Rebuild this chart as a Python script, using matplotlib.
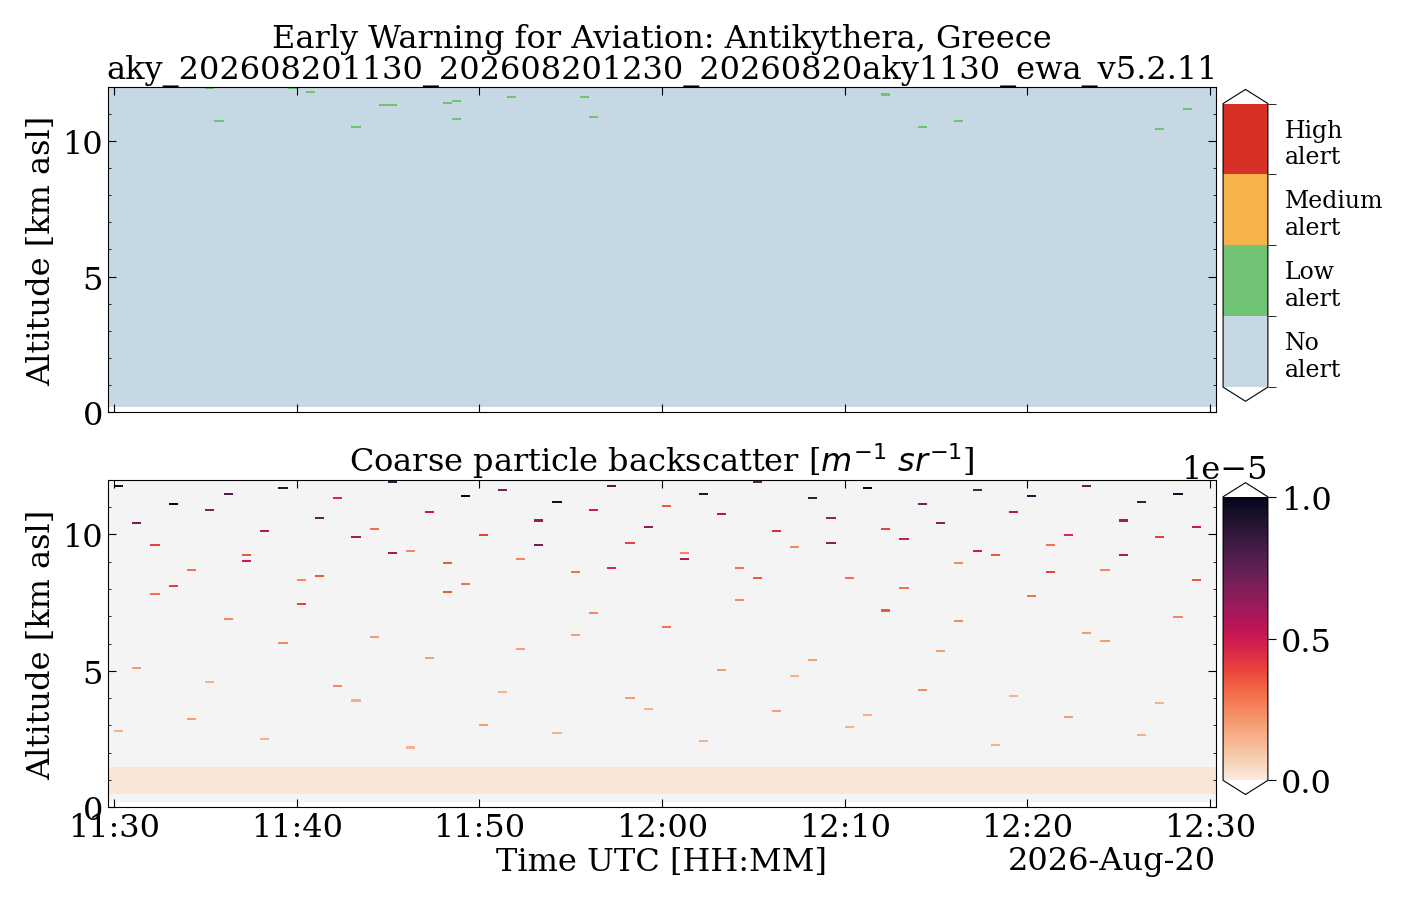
import numpy as np
import matplotlib.pyplot as plt
import matplotlib.dates as mdates
from matplotlib.colors import ListedColormap, BoundaryNorm, Normalize
import seaborn as sns
from datetime import datetime, timedelta

plt.rcParams['font.family'] = ['DejaVu Serif']
plt.rcParams['font.size'] = 23

# ---- data ----
start = datetime(2026, 8, 20, 11, 30)
n_minutes = 60
alt_bottom, alt_top, alt_step = 0.2, 12.0, 0.075

# alert cells: (minute after 11:30, altitude km), level 1 = low alert
alert_minute = [5, 5.5, 9.5, 10.5, 13, 14.5, 15, 18, 18.5, 18.5, 21.5, 25.5, 26, 42, 44, 46, 57, 58.5]
alert_alt_km = [11.9, 10.7, 11.9, 11.8, 10.5, 11.3, 11.3, 11.4, 11.5, 10.8, 11.6, 11.6, 10.9, 11.7, 10.5, 10.7, 10.4, 11.2]

# near-ground aerosol layer (km) and its backscatter (1e-6 m-1 sr-1)
layer_base_km, layer_top_km, layer_value = 0.5, 1.5, 0.12

# strong coarse returns: minute, altitude km, value (1e-6)
speck_minute = [0, 1, 2, 3, 4, 5, 6, 7, 8, 9, 10, 11, 12, 13, 14, 15, 16, 17, 18, 19,
                20, 21, 22, 23, 24, 25, 26, 27, 28, 29, 30, 31, 32, 33, 34, 35, 36, 37, 38, 39,
                40, 41, 42, 43, 44, 45, 46, 47, 48, 49, 50, 51, 52, 53, 54, 55, 56, 57, 58, 59,
                2, 6, 10, 14, 18, 22, 26, 30, 34, 38, 42, 46, 50, 54, 58,
                1, 5, 9, 13, 17, 21, 25, 29, 33, 37, 41, 45, 49, 53, 57,
                3, 7, 11, 15, 19, 23, 27, 31, 35, 39, 43, 47, 51, 55, 59,
                0, 4, 8, 12, 16, 20, 24, 28, 32, 36, 40, 44, 48, 52, 56]
speck_alt_km = [11.8, 10.4, 9.6, 11.1, 8.7, 10.9, 11.5, 9.2, 10.1, 11.7, 8.3, 10.6, 11.3, 9.9, 10.2, 11.9, 9.4, 10.8, 8.9, 11.4,
                10.0, 11.6, 9.1, 10.5, 11.2, 8.6, 10.9, 11.8, 9.7, 10.3, 11.0, 9.3, 11.5, 10.7, 8.8, 11.9, 10.1, 9.5, 11.3, 10.6,
                8.4, 11.7, 10.2, 9.8, 11.1, 10.4, 8.9, 11.6, 9.2, 10.8, 11.4, 9.6, 10.0, 11.8, 8.7, 10.5, 11.2, 9.9, 11.5, 10.3,
                7.8, 6.9, 7.4, 6.2, 7.9, 5.8, 7.1, 6.6, 7.6, 5.4, 7.2, 6.8, 7.7, 6.1, 7.0,
                5.1, 4.6, 6.0, 3.9, 5.5, 4.2, 6.3, 3.6, 5.0, 4.8, 3.4, 5.7, 4.1, 6.4, 3.8,
                8.1, 9.0, 8.5, 9.3, 8.2, 9.6, 8.8, 9.1, 8.4, 9.7, 8.0, 9.4, 8.6, 9.2, 8.3,
                2.8, 3.2, 2.5, 4.4, 2.2, 3.0, 2.7, 4.0, 2.4, 3.5, 2.9, 4.3, 2.3, 3.3, 2.6]
speck_value = [9.5, 7.0, 4.0, 10.0, 3.0, 6.5, 8.0, 3.5, 5.5, 9.0, 2.5, 7.5, 4.5, 6.0, 3.0, 8.5, 2.5, 5.0, 3.5, 10.0,
               4.0, 7.0, 2.5, 6.0, 9.5, 3.0, 5.0, 8.0, 4.0, 6.5, 3.5, 2.5, 9.0, 5.5, 3.0, 7.5, 4.5, 2.5, 8.5, 6.0,
               3.0, 10.0, 4.0, 5.0, 7.0, 6.5, 2.5, 8.0, 3.5, 5.5, 9.0, 3.0, 4.5, 7.5, 2.5, 6.0, 8.5, 4.0, 9.5, 5.0,
               3.0, 2.5, 4.0, 2.0, 3.5, 2.0, 2.5, 3.0, 2.5, 2.0, 3.5, 2.5, 3.0, 2.0, 2.5,
               2.0, 1.5, 2.5, 1.5, 2.0, 1.5, 2.0, 1.5, 2.0, 1.5, 1.5, 2.0, 1.5, 2.0, 1.5,
               4.0, 5.0, 3.5, 6.0, 3.0, 7.0, 4.5, 5.5, 3.5, 6.5, 3.0, 5.0, 4.0, 6.0, 3.5,
               1.5, 2.0, 1.5, 2.5, 1.5, 2.0, 1.5, 2.0, 1.5, 2.0, 1.5, 2.5, 1.5, 2.0, 1.5]

# ---- grids (half-minute columns, one extra on each side to fill the axes) ----
n_cols = 2 * n_minutes + 2
t_edges = [start + timedelta(seconds=30 * (k - 1)) for k in range(n_cols + 1)]
t_num = mdates.date2num(t_edges)
z_edges = np.arange(alt_bottom, alt_top + alt_step / 2, alt_step)
nz = len(z_edges) - 1

def cell(m, z):
    return int((z - alt_bottom) / alt_step), int(round(m * 2)) + 1

alert = np.zeros((nz, n_cols))
for m, z in zip(alert_minute, alert_alt_km):
    alert[cell(m, z)] = 1

bsc = np.full((nz, n_cols), np.nan)
zc = 0.5 * (z_edges[:-1] + z_edges[1:])
bsc[(zc >= layer_base_km) & (zc <= layer_top_km), :] = layer_value
for m, z, v in zip(speck_minute, speck_alt_km, speck_value):
    bsc[cell(m + 0.25, z)] = v
bsc = bsc * 1e-6

fig = plt.figure(figsize=(14.01, 9.04), dpi=100)
ax1 = fig.add_axes([0.077, 0.543, 0.791, 0.36])
ax2 = fig.add_axes([0.077, 0.106, 0.791, 0.362])
cax1 = fig.add_axes([0.873, 0.555, 0.032, 0.345])
cax2 = fig.add_axes([0.873, 0.12, 0.032, 0.345])

alert_cmap = ListedColormap(['#c5d8e3', '#6fc372', '#f6b24b', '#d73027'])
alert_norm = BoundaryNorm([-0.5, 0.5, 1.5, 2.5, 3.5], 4)
ax1.pcolormesh(t_num, z_edges, alert, cmap=alert_cmap, norm=alert_norm)

bsc_cmap = sns.color_palette('rocket_r', as_cmap=True).copy()
bsc_cmap.set_bad('#f4f4f4')
bsc_norm = Normalize(0, 1e-5)
im2 = ax2.pcolormesh(t_num, z_edges, bsc, cmap=bsc_cmap, norm=bsc_norm)

xlim = (mdates.date2num(start - timedelta(seconds=20)),
        mdates.date2num(start + timedelta(minutes=60, seconds=20)))
for ax in (ax1, ax2):
    ax.set_xlim(xlim)
    ax.set_ylim(0, 12)
    ax.set_yticks([0, 5, 10])
    ax.yaxis.set_minor_locator(plt.MultipleLocator(1))
    ax.xaxis.set_major_locator(mdates.MinuteLocator(byminute=range(0, 60, 10)))
    ax.xaxis.set_major_formatter(mdates.DateFormatter('%H:%M'))
    ax.tick_params(which='both', direction='in', top=True, right=True)
    ax.tick_params(which='major', length=6)
    ax.set_ylabel('Altitude [km asl]')
ax1.tick_params(labelbottom=False)

ax1.set_title('Early Warning for Aviation: Antikythera, Greece\n'
              'aky_202608201130_202608201230_20260820aky1130_ewa_v5.2.11',
              fontsize=23, pad=6, linespacing=1.0)
ax2.set_title(r'Coarse particle backscatter [$m^{-1}\ sr^{-1}$]', fontsize=23, pad=6)
ax2.set_xlabel('Time UTC [HH:MM]', labelpad=2)
ax2.text(1.0, -0.115, '2026-Aug-20', transform=ax2.transAxes, ha='right', va='top')

sm = plt.cm.ScalarMappable(cmap=alert_cmap.with_extremes(under='white', over='white'), norm=alert_norm)
cb1 = fig.colorbar(sm, cax=cax1, extend='both', extendfrac=0.05)
cb1.set_ticks([0, 1, 2, 3])
cb1.set_ticklabels(['No\nalert', 'Low\nalert', 'Medium\nalert', 'High\nalert'])
cb1.ax.tick_params(length=0, labelsize=17, pad=12)
cb1.ax.set_yticks([-0.5, 0.5, 1.5, 2.5, 3.5], minor=True)
cb1.ax.tick_params(which='minor', length=6, direction='out')

sm2 = plt.cm.ScalarMappable(cmap=bsc_cmap.with_extremes(under='white', over='white'), norm=bsc_norm)
cb2 = fig.colorbar(sm2, cax=cax2, extend='both', extendfrac=0.05)
cb2.set_ticks([0, 0.5e-5, 1e-5])
cb2.ax.tick_params(labelsize=23, length=6)

fig.savefig('out.png', dpi=100)
